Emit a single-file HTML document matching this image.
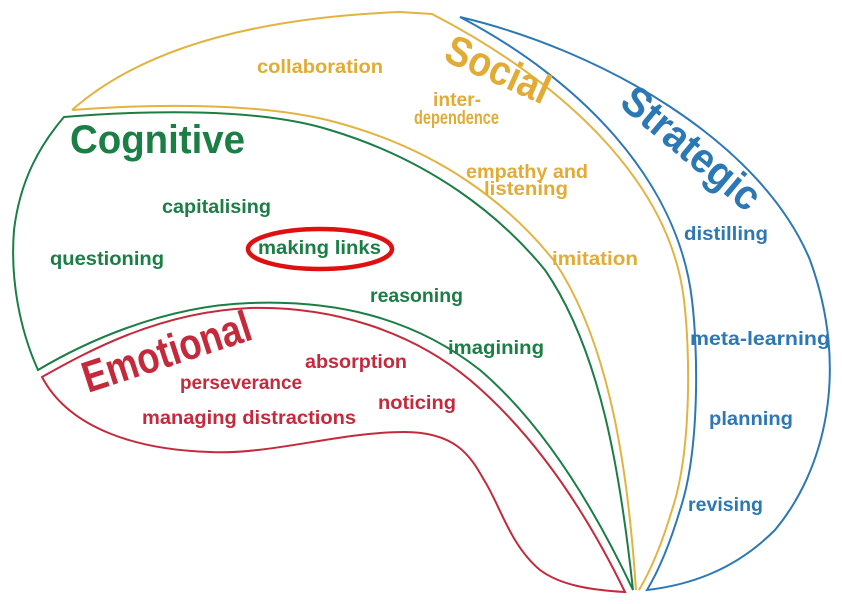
<!DOCTYPE html>
<html><head><meta charset="utf-8"><style>
html,body{margin:0;padding:0;background:#fff;}
svg{display:block;}
text{font-family:"Liberation Sans Narrow","Liberation Sans",sans-serif;font-weight:bold;}
.y{fill:#e2ab35}.g{fill:#1a7e45}.r{fill:#c42a3c}.b{fill:#2b78b5}
.s{font-size:19px}
</style></head><body>
<svg width="842" height="604" viewBox="0 0 842 604" xmlns="http://www.w3.org/2000/svg">
<g fill="none" stroke-width="2">
<path d="M72,110 C140,50 250,18 400,12 L432,14 C560,80 670,180 684,300 C690,350 692,450 672,510 C660,550 648,575 639,590" stroke="#e2b340"/>
<path d="M72,110 C150,104 260,102 335,122 C440,150 510,205 555,262 C610,345 628,470 636,590" stroke="#e2b340"/>
<path d="M460,17 C600,50 760,140 810,260 C850,370 825,470 775,530 C735,570 690,585 647,590 C656,575 668,550 680,510 C700,450 698,350 692,300 C678,180 580,80 460,17 Z" stroke="#2b78b5"/>
<path d="M64,117 C150,110 260,108 330,130 C430,160 500,215 545,270 C600,350 620,470 633,590 C600,520 550,430 480,370 C410,315 330,300 250,303 C160,306 80,345 38,370 C20,330 10,280 14,230 C20,180 40,145 64,117 Z" stroke="#1a7e45"/>
<path d="M42,377 C90,350 160,312 250,308 C330,306 410,330 470,380 C535,435 585,510 625,592 C590,590 560,585 540,570 C510,545 500,505 484,480 C470,455 455,432 404,432 C340,432 270,455 210,452 C140,450 70,430 42,377 Z" stroke="#c42a3c"/>
<ellipse cx="320" cy="249" rx="72" ry="20" stroke="#e01010" stroke-width="4.5"/>
</g>
<text class="y s" x="257" y="73" textLength="126" lengthAdjust="spacingAndGlyphs">collaboration</text>
<text class="y s" x="433" y="106" textLength="48" lengthAdjust="spacingAndGlyphs">inter-</text>
<text class="y s" x="414" y="124" textLength="85" lengthAdjust="spacingAndGlyphs">dependence</text>
<text class="y s" x="466" y="178" textLength="122" lengthAdjust="spacingAndGlyphs">empathy and</text>
<text class="y s" x="484" y="195" textLength="84" lengthAdjust="spacingAndGlyphs">listening</text>
<text class="y s" x="552" y="265" textLength="86" lengthAdjust="spacingAndGlyphs">imitation</text>
<text class="y" x="0" y="0" font-size="42" transform="translate(442,60) rotate(24)" textLength="110" lengthAdjust="spacingAndGlyphs">Social</text>
<text class="b" x="0" y="0" font-size="42" transform="translate(618,105) rotate(40)" textLength="168" lengthAdjust="spacingAndGlyphs">Strategic</text>
<text class="g" x="70" y="153" font-size="40" textLength="175" lengthAdjust="spacingAndGlyphs">Cognitive</text>
<text class="g s" x="162" y="213" textLength="109" lengthAdjust="spacingAndGlyphs">capitalising</text>
<text class="g s" x="258" y="254" textLength="123" lengthAdjust="spacingAndGlyphs">making links</text>
<text class="g s" x="50" y="265" textLength="114" lengthAdjust="spacingAndGlyphs">questioning</text>
<text class="g s" x="370" y="302" textLength="93" lengthAdjust="spacingAndGlyphs">reasoning</text>
<text class="g s" x="448" y="354" textLength="96" lengthAdjust="spacingAndGlyphs">imagining</text>
<text class="b s" x="684" y="240" textLength="84" lengthAdjust="spacingAndGlyphs">distilling</text>
<text class="b s" x="690" y="345" textLength="140" lengthAdjust="spacingAndGlyphs">meta-learning</text>
<text class="b s" x="709" y="425" textLength="84" lengthAdjust="spacingAndGlyphs">planning</text>
<text class="b s" x="688" y="511" textLength="75" lengthAdjust="spacingAndGlyphs">revising</text>
<text class="r" x="0" y="0" font-size="44" transform="translate(88,393) rotate(-18)" textLength="175" lengthAdjust="spacingAndGlyphs">Emotional</text>
<text class="r s" x="305" y="368" textLength="102" lengthAdjust="spacingAndGlyphs">absorption</text>
<text class="r s" x="180" y="389" textLength="122" lengthAdjust="spacingAndGlyphs">perseverance</text>
<text class="r s" x="378" y="409" textLength="78" lengthAdjust="spacingAndGlyphs">noticing</text>
<text class="r s" x="142" y="424" textLength="214" lengthAdjust="spacingAndGlyphs">managing distractions</text>
</svg>
</body></html>
